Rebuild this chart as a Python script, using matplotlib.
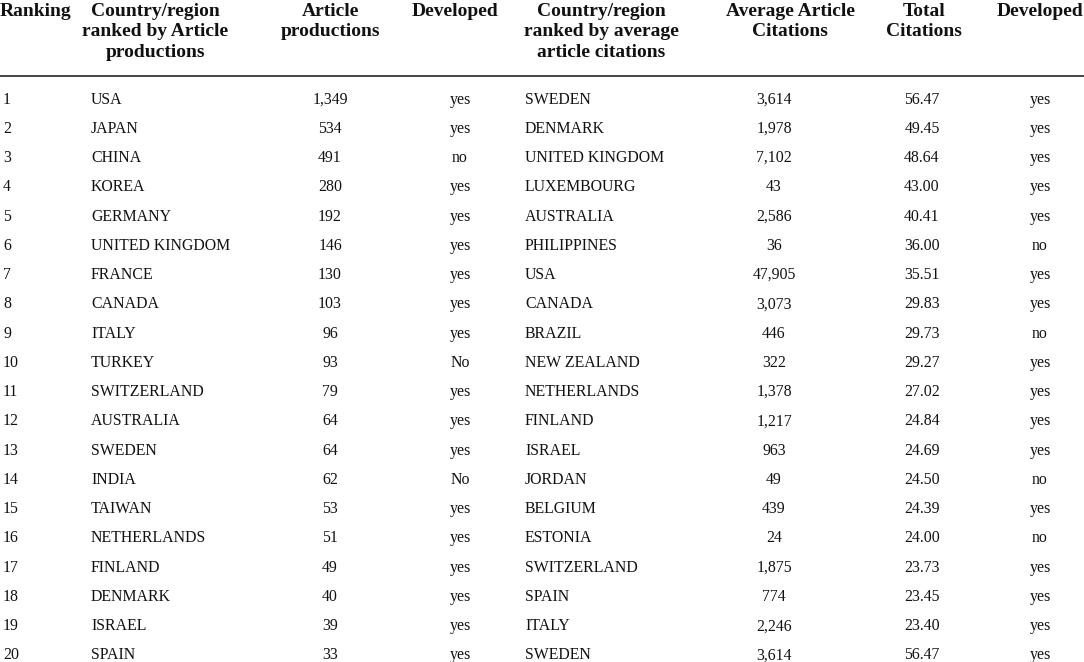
import matplotlib
matplotlib.use("Agg")
import matplotlib.pyplot as plt

# Table data
ranking = list(range(1, 21))
countries_prod = ["USA", "JAPAN", "CHINA", "KOREA", "GERMANY", "UNITED KINGDOM",
                  "FRANCE", "CANADA", "ITALY", "TURKEY", "SWITZERLAND", "AUSTRALIA",
                  "SWEDEN", "INDIA", "TAIWAN", "NETHERLANDS", "FINLAND", "DENMARK",
                  "ISRAEL", "SPAIN"]
article_productions = ["1,349", "534", "491", "280", "192", "146", "130", "103", "96", "93",
                       "79", "64", "64", "62", "53", "51", "49", "40", "39", "33"]
developed_prod = ["yes", "yes", "no", "yes", "yes", "yes", "yes", "yes", "yes", "No",
                  "yes", "yes", "yes", "No", "yes", "yes", "yes", "yes", "yes", "yes"]
countries_cit = ["SWEDEN", "DENMARK", "UNITED KINGDOM", "LUXEMBOURG", "AUSTRALIA",
                 "PHILIPPINES", "USA", "CANADA", "BRAZIL", "NEW ZEALAND", "NETHERLANDS",
                 "FINLAND", "ISRAEL", "JORDAN", "BELGIUM", "ESTONIA", "SWITZERLAND",
                 "SPAIN", "ITALY", "SWEDEN"]
avg_citations = ["3,614", "1,978", "7,102", "43", "2,586", "36", "47,905", "3,073", "446",
                 "322", "1,378", "1,217", "963", "49", "439", "24", "1,875", "774",
                 "2,246", "3,614"]
total_citations = ["56.47", "49.45", "48.64", "43.00", "40.41", "36.00", "35.51", "29.83",
                   "29.73", "29.27", "27.02", "24.84", "24.69", "24.50", "24.39", "24.00",
                   "23.73", "23.45", "23.40", "56.47"]
developed_cit = ["yes", "yes", "yes", "yes", "yes", "no", "yes", "yes", "no", "yes",
                 "yes", "yes", "yes", "no", "yes", "no", "yes", "yes", "yes", "yes"]

headers = ["Ranking", "Country/region\nranked by Article\nproductions", "Article\nproductions",
           "Developed", "Country/region\nranked by average\narticle citations",
           "Average Article\nCitations", "Total\nCitations", "Developed"]

W, H = 1084, 662
plt.rcParams["font.family"] = ["Liberation Serif", "DejaVu Serif"]

fig = plt.figure(figsize=(W / 100, H / 100), dpi=100)
ax = fig.add_axes([0, 0, 1, 1])
ax.set_xlim(0, W)
ax.set_ylim(H, 0)
ax.axis("off")

# column layout: (header x, header align, body x, body align)
cols = [
    (0, "left", 3, "left"),
    (155, "center", 91, "left"),
    (330, "center", 330, "center"),
    (455, "center", 460, "center"),
    (601, "center", 525, "left"),
    (790, "center", 774, "center"),
    (924, "center", 922, "center"),
    (1040, "center", 1040, "center"),
]
columns = [[str(r) for r in ranking], countries_prod, article_productions, developed_prod,
           countries_cit, avg_citations, total_citations, developed_cit]

for (hx, ha, bx, ba), head, vals in zip(cols, headers, columns):
    ax.text(hx, 2.5, head, ha=ha, va="top", fontsize=14, fontweight="bold",
            linespacing=1.3, multialignment="center", color="#111111")
    for i, v in enumerate(vals):
        ax.text(bx, 103.5 + i * 29.26, v, ha=ba, va="baseline", fontsize=11.4,
                color="#111111")

ax.plot([0, W], [76, 76], color="#444444", lw=1.4)

fig.savefig("out.png", dpi=100, facecolor="white")
